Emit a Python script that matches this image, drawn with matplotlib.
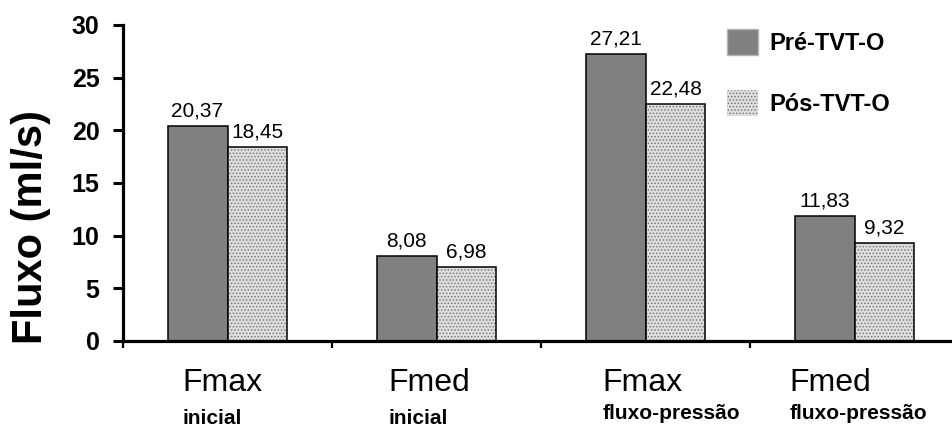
import matplotlib
matplotlib.use("Agg")
import matplotlib.pyplot as plt
import numpy as np
from matplotlib.patches import Patch
from matplotlib.transforms import blended_transform_factory

# Data
main_labels = ["Fmax", "Fmed", "Fmax", "Fmed"]
sub_labels = ["inicial", "inicial", "fluxo-pressão", "fluxo-pressão"]
series_names = ["Pré-TVT-O", "Pós-TVT-O"]
pre_values = [20.37, 8.08, 27.21, 11.83]
pos_values = [18.45, 6.98, 22.48, 9.32]
y_ticks = [0, 5, 10, 15, 20, 25, 30]

plt.rcParams["font.family"] = ["Liberation Sans", "DejaVu Sans"]
plt.rcParams["hatch.linewidth"] = 0.7

W, H = 952, 429
fig = plt.figure(figsize=(W / 100, H / 100), dpi=100)
ax = fig.add_axes([123 / W, 1 - 341 / H, 1 - 123 / W, (341 - 25) / H])

n = len(main_labels)
centers = np.arange(n) + 0.5
bw = 0.287

pre_col = "#808080"
pos_face = "#dedede"
pos_hatch = "#7a7a7a"

ax.bar(centers - bw / 2, pre_values, bw, color=pre_col, edgecolor="black", linewidth=1.1, zorder=2)
ax.bar(centers + bw / 2, pos_values, bw, color=pos_face, edgecolor=pos_hatch,
       hatch=".....", linewidth=0, zorder=2)
ax.bar(centers + bw / 2, pos_values, bw, fill=False, edgecolor="black", linewidth=1.1, zorder=3)

for x, v in zip(centers - bw / 2, pre_values):
    ax.annotate(f"{v:.2f}".replace(".", ","), (x, v), xytext=(0, 4), textcoords="offset points",
                ha="center", va="bottom", fontsize=15)
for x, v in zip(centers + bw / 2, pos_values):
    ax.annotate(f"{v:.2f}".replace(".", ","), (x, v), xytext=(0, 4), textcoords="offset points",
                ha="center", va="bottom", fontsize=15)

ax.set_xlim(0, (W - 123) / 209)
ax.set_ylim(0, 30)
ax.set_yticks(y_ticks)
ax.set_yticklabels([str(t) for t in y_ticks], fontsize=18, fontweight="bold")
ax.set_xticks([0, 1, 2, 3])
ax.set_xticklabels([])
ax.tick_params(axis="y", direction="out", length=7, width=2.2, pad=10)
ax.tick_params(axis="x", direction="out", length=5, width=1.6)
for s in ["top", "right"]:
    ax.spines[s].set_visible(False)
for s in ["left", "bottom"]:
    ax.spines[s].set_linewidth(2.3)
    ax.spines[s].set_capstyle("projecting")

# category labels below the axis
tr = blended_transform_factory(ax.transData, fig.transFigure)
left_offsets = [-0.215, -0.23, -0.205, -0.31]
sub_baselines = [424, 424, 419, 419]
for c, off, m, s, yb in zip(centers, left_offsets, main_labels, sub_labels, sub_baselines):
    ax.text(c + off, 1 - 391 / H, m, transform=tr, ha="left", va="baseline", fontsize=23)
    ax.text(c + off, 1 - yb / H, s, transform=tr, ha="left", va="baseline",
            fontsize=15, fontweight="bold")

fig.text(31 / W, 1 - 227 / H, "Fluxo (ml/s)", rotation=90, ha="center", va="center",
         fontsize=30, fontweight="bold")

handles = [
    Patch(facecolor=pre_col, edgecolor="#b4b4b4", linewidth=1),
    Patch(facecolor=pos_face, edgecolor=pos_hatch, hatch=".....", linewidth=0),
]
leg = fig.legend(handles, series_names, loc="upper left", bbox_to_anchor=(727 / W, 1 - 29 / H),
                 bbox_transform=fig.transFigure, frameon=False, borderpad=0, borderaxespad=0,
                 handlelength=1.3, handleheight=1.3, handletextpad=0.5, labelspacing=1.5,
                 prop={"size": 17, "weight": "bold"})

fig.savefig("out.png", dpi=100)
